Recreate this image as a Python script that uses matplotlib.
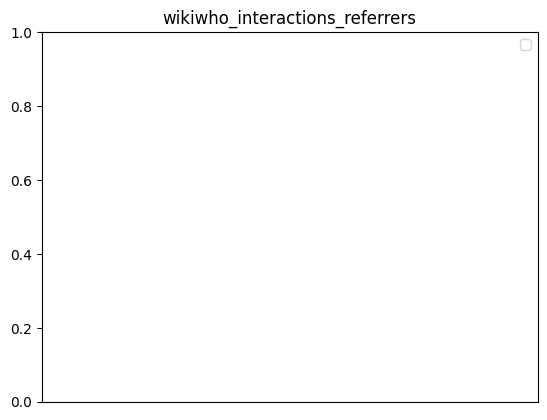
import numpy as np
import matplotlib
matplotlib.use('agg')
import matplotlib.pyplot as plt

# data: the chart has no series, so these are empty
title = 'wikiwho_interactions_referrers'
categories = []
series_names = []
series_values = []

fig, ax = plt.subplots()
x = np.arange(len(categories))
for name, vals in zip(series_names, series_values):
    ax.bar(x, vals, label=name)

ax.set_xticks(x)
ax.set_xticklabels(categories)
ax.set_ylim(0, 1)
ax.set_title(title)
ax.legend()

plt.savefig('out.png', dpi=100, bbox_inches='tight')
plt.close()
